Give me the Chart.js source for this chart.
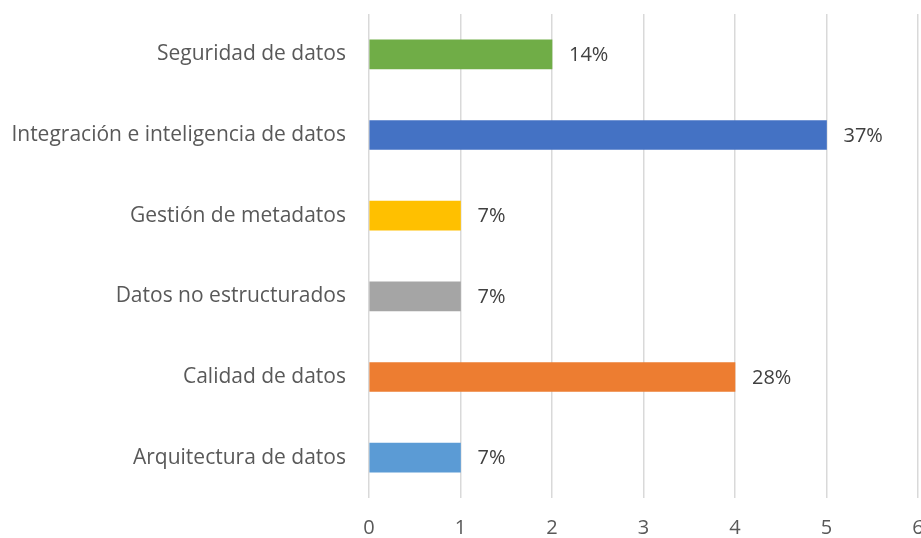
<!DOCTYPE html>
<html lang="es">
<head>
  <meta charset="UTF-8">
  <title>Áreas de gestión de datos</title>
  <script src="https://cdn.jsdelivr.net/npm/chart.js"></script>
  <style>
    body {
      margin: 0;
      background: white;
    }
    .chart-box {
      width: 921px;
      height: 538px;
    }
  </style>
</head>
<body>
  <div class="chart-box">
    <canvas id="barChart" width="921" height="538"></canvas>
  </div>

  <script>
    const categories = ['Seguridad de datos', 'Integración e inteligencia de datos', 'Gestión de metadatos',
                        'Datos no estructurados', 'Calidad de datos', 'Arquitectura de datos'];
    const counts = [2, 5, 1, 1, 4, 1];
    const percentLabels = ['14%', '37%', '7%', '7%', '28%', '7%'];
    const barColors = ['#70AD47', '#4472C4', '#FFC000', '#A5A5A5', '#ED7D31', '#5B9BD5'];
    const xTicks = [0, 1, 2, 3, 4, 5, 6];

    const fontFamily = "'Open Sans', sans-serif";

    // percent labels to the right of each bar
    const valueLabels = {
      id: 'valueLabels',
      afterDatasetsDraw(chart) {
        const ctx = chart.ctx;
        const meta = chart.getDatasetMeta(0);
        ctx.save();
        ctx.font = '20px ' + fontFamily;
        ctx.fillStyle = '#404040';
        ctx.textAlign = 'left';
        ctx.textBaseline = 'middle';
        meta.data.forEach((bar, i) => {
          ctx.fillText(percentLabels[i], bar.x + 17, bar.y + 1);
        });
        ctx.restore();
      }
    };

    new Chart(document.getElementById('barChart').getContext('2d'), {
      type: 'bar',
      data: {
        labels: categories,
        datasets: [{
          data: counts,
          backgroundColor: barColors,
          barThickness: 29
        }]
      },
      plugins: [valueLabels],
      options: {
        indexAxis: 'y',
        responsive: false,
        animation: false,
        layout: { padding: { top: 14, right: 3, left: 0, bottom: 0 } },
        plugins: {
          legend: { display: false },
          tooltip: { enabled: false }
        },
        scales: {
          x: {
            min: xTicks[0],
            max: xTicks[xTicks.length - 1],
            afterBuildTicks(scale) {
              scale.ticks = xTicks.map(v => ({ value: v }));
            },
            afterFit(scale) {
              scale.height = 40;
              scale.paddingLeft = 0;
              scale.paddingRight = 0;
            },
            border: { display: false },
            grid: { color: '#D9D9D9', lineWidth: 1.5, drawTicks: false },
            ticks: {
              padding: 18,
              color: '#595959',
              font: { family: fontFamily, size: 20 }
            }
          },
          y: {
            afterFit(scale) {
              scale.width = 369;
              scale.paddingTop = 0;
              scale.paddingBottom = 0;
            },
            border: { display: false },
            grid: { display: false, drawTicks: false },
            ticks: {
              padding: 23,
              color: '#595959',
              font: { family: fontFamily, size: 21 }
            }
          }
        }
      }
    });
  </script>
</body>
</html>
